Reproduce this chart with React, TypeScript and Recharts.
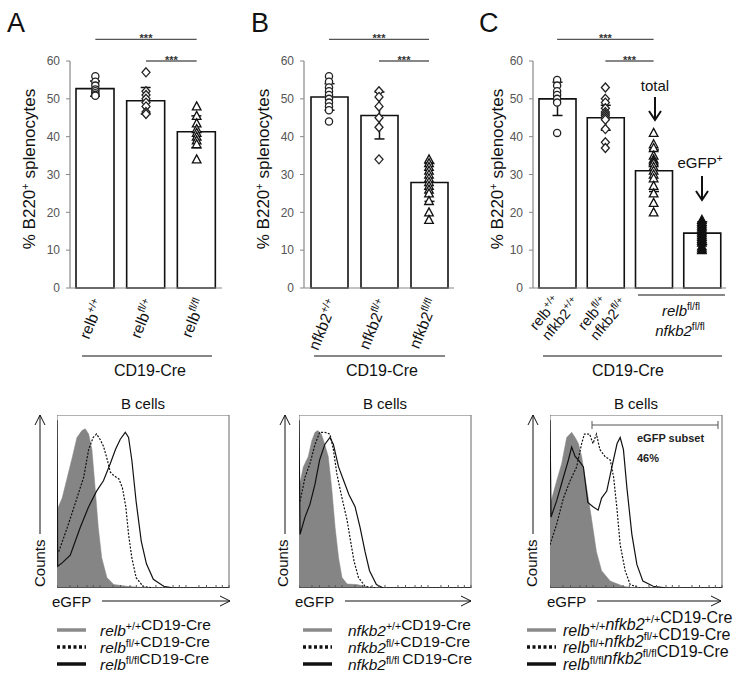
import React from "react";
import {
  Area,
  Bar,
  ComposedChart,
  ErrorBar,
  Line,
  ReferenceArea,
  ReferenceLine,
  Scatter,
  XAxis,
  YAxis,
} from "recharts";

const FONT = 'Arial, "Liberation Sans", Helvetica, sans-serif';
const AXIS = "#888";

// ---- top bar charts: category keys are "gene|genotype[|gene|genotype]"
const catsA = ["relb|+/+", "relb|fl/+", "relb|fl/fl"];
const meansA = [52.7, 49.5, 41.3];
const errsA = [2.0, 3.5, 4.2];
const ptsA = [
  [56, 54.5, 53.5, 52.5, 52, 51.5, 51, 50.8],
  [57, 52, 51, 50, 49, 48, 46.5, 46],
  [48, 45.5, 43.5, 42, 41, 40, 39, 38, 34],
];

const catsB = ["nfkb2|+/+", "nfkb2|fl/+", "nfkb2|fl/fl"];
const meansB = [50.5, 45.6, 27.9];
const errsB = [3.5, 6.2, 5.0];
const ptsB = [
  [56, 54.5, 53, 52, 51, 50, 49, 48, 47, 44],
  [52, 50.5, 48, 45, 42.5, 34],
  [34, 33, 32, 31, 30, 29, 28, 27, 26, 25, 23, 20, 18],
];

const catsC = ["relb|+/+|nfkb2|+/+", "relb|fl/+|nfkb2|fl/+", "dko-total", "dko-egfp"];
const meansC = [50, 45, 31, 14.5];
const errsC = [4.4, 3.3, 5.5, 3.0];
const ptsC = [
  [55, 53.5, 52, 51, 50, 49, 41],
  [53, 50, 49, 47.5, 46.5, 46, 45.5, 45, 44.5, 42, 38.5, 37],
  [41, 38, 37, 35, 34, 33.5, 33, 32, 31, 30, 29, 27, 25, 22.5, 20],
  [18, 17.5, 17, 16.5, 16, 15.5, 15, 14.5, 14, 13.5, 13, 12.5, 12, 11, 10.5, 10],
];

const yTicks = [0, 10, 20, 30, 40, 50, 60];
const sigLong = 65.7;
const sigShort = 60;

// ---- histograms (x: channel 0-100 across the plot, y: % of max)
const grayA = [
  { x: 0, y: 45 }, { x: 3, y: 52 }, { x: 6, y: 64 }, { x: 9, y: 76 }, { x: 11.6, y: 87 },
  { x: 14.5, y: 91 }, { x: 16.4, y: 92 }, { x: 18.4, y: 89 }, { x: 20.3, y: 80 }, { x: 22, y: 60 },
  { x: 24, y: 35 }, { x: 26, y: 17.5 }, { x: 29, y: 6 }, { x: 33, y: 2 }, { x: 40.6, y: 1 },
  { x: 48, y: 0.4 }, { x: 55, y: 0 }, { x: 100, y: 0 },
];
const dotA = [
  { x: 1, y: 21 }, { x: 6, y: 35 }, { x: 11.6, y: 52 }, { x: 15.5, y: 64 }, { x: 18.4, y: 80 },
  { x: 21, y: 87 }, { x: 23, y: 89 }, { x: 25, y: 86 }, { x: 27, y: 82 }, { x: 29, y: 75 },
  { x: 31, y: 67 }, { x: 33, y: 65 }, { x: 36, y: 63 }, { x: 38, y: 58 }, { x: 40, y: 47 },
  { x: 41.6, y: 31 }, { x: 43.5, y: 17.5 }, { x: 46, y: 6 }, { x: 50, y: 1 }, { x: 56, y: 0 },
  { x: 100, y: 0 },
];
const solidA = [
  { x: 0, y: 97 }, { x: 0.4, y: 12.6 }, { x: 3, y: 14.5 }, { x: 7.7, y: 19 }, { x: 13.5, y: 35 },
  { x: 18.4, y: 47 }, { x: 23, y: 56 }, { x: 27, y: 62 }, { x: 31, y: 72 }, { x: 34, y: 80 },
  { x: 36.8, y: 86 }, { x: 39.7, y: 90 }, { x: 41.6, y: 87 }, { x: 43.5, y: 74 }, { x: 46, y: 50 },
  { x: 49, y: 27 }, { x: 52, y: 14 }, { x: 56, y: 5 }, { x: 62, y: 1 }, { x: 68, y: 0 }, { x: 100, y: 0 },
];

const grayB = [
  { x: 0, y: 58 }, { x: 2.5, y: 70 }, { x: 5.4, y: 76 }, { x: 7.4, y: 85 }, { x: 9.3, y: 90 },
  { x: 11, y: 91 }, { x: 13, y: 89 }, { x: 15, y: 83 }, { x: 17, y: 76 }, { x: 19, y: 58 },
  { x: 21, y: 35 }, { x: 23, y: 17.5 }, { x: 25, y: 6 }, { x: 28, y: 2.3 }, { x: 33.6, y: 2 },
  { x: 38.4, y: 1 }, { x: 41, y: 0 }, { x: 100, y: 0 },
];
const dotB = [
  { x: 0.6, y: 50 }, { x: 3.5, y: 64 }, { x: 6.4, y: 72 }, { x: 9.3, y: 83 }, { x: 12, y: 90 },
  { x: 15, y: 90 }, { x: 18, y: 89 }, { x: 20, y: 80 }, { x: 22, y: 66 }, { x: 25, y: 52 },
  { x: 28, y: 39 }, { x: 30, y: 27 }, { x: 32, y: 15.5 }, { x: 34.6, y: 6 }, { x: 38.4, y: 1 },
  { x: 45, y: 0 }, { x: 100, y: 0 },
];
const solidB = [
  { x: 0, y: 97 }, { x: 0.6, y: 31 }, { x: 3.5, y: 41 }, { x: 6.4, y: 48.5 }, { x: 9.3, y: 60 },
  { x: 12, y: 74 }, { x: 15, y: 83 }, { x: 18, y: 87 }, { x: 20, y: 83 }, { x: 23, y: 70 },
  { x: 26, y: 62 }, { x: 29, y: 54 }, { x: 32.6, y: 47 }, { x: 35.5, y: 35 }, { x: 38.4, y: 21 },
  { x: 41, y: 10 }, { x: 45, y: 2 }, { x: 49, y: 0 }, { x: 100, y: 0 },
];

const grayC = [
  { x: 0, y: 48 }, { x: 3.9, y: 62 }, { x: 6.8, y: 72 }, { x: 9.7, y: 87 }, { x: 12.6, y: 90 },
  { x: 14.6, y: 87 }, { x: 16.5, y: 83.5 }, { x: 18.4, y: 76 }, { x: 21, y: 60 }, { x: 24, y: 41 },
  { x: 27, y: 21 }, { x: 30, y: 10 }, { x: 35, y: 4 }, { x: 42.7, y: 1 }, { x: 48.5, y: 0 },
  { x: 100, y: 0 },
];
const dotC = [
  { x: 0, y: 25 }, { x: 3.9, y: 37 }, { x: 7.8, y: 52 }, { x: 11.7, y: 62 }, { x: 15.5, y: 70 },
  { x: 18.4, y: 83.5 }, { x: 20, y: 89 }, { x: 23, y: 89 }, { x: 25, y: 83.5 }, { x: 27, y: 89 },
  { x: 29, y: 80 }, { x: 32, y: 76 }, { x: 35, y: 74 }, { x: 37, y: 64 }, { x: 39, y: 45 },
  { x: 40.8, y: 25 }, { x: 43.7, y: 10 }, { x: 46.6, y: 2 }, { x: 52, y: 0 }, { x: 100, y: 0 },
];
const solidC = [
  { x: 0, y: 97 }, { x: 0.6, y: 41 }, { x: 3.9, y: 50.5 }, { x: 7.8, y: 64 }, { x: 10.7, y: 74 },
  { x: 12.6, y: 81.5 }, { x: 14.6, y: 76 }, { x: 16.5, y: 74 }, { x: 19.4, y: 70 }, { x: 22, y: 49.5 },
  { x: 25, y: 47 }, { x: 28, y: 45 }, { x: 30, y: 52 }, { x: 33, y: 56 }, { x: 36, y: 70 },
  { x: 39, y: 83.5 }, { x: 40.8, y: 87 }, { x: 42.7, y: 80 }, { x: 44.7, y: 58 }, { x: 47.6, y: 31 },
  { x: 50.5, y: 13.6 }, { x: 54, y: 4 }, { x: 60, y: 1 }, { x: 68, y: 0 }, { x: 100, y: 0 },
];

// log-decade ticks along the eGFP axis (4 decades)
const logTicks: number[] = [];
for (let d = 0; d < 4; d++) {
  for (let k = 1; k < 10; k++) logTicks.push(d * 25 + Math.log10(k) * 25);
}
logTicks.push(100);

const legendA = [
  [["relb", "+/+"]],
  [["relb", "fl/+"]],
  [["relb", "fl/fl"]],
];
const legendB = [
  [["nfkb2", "+/+"]],
  [["nfkb2", "fl/+"]],
  [["nfkb2", "fl/fl "]],
];
const legendC = [
  [["relb", "+/+"], ["nfkb2", "+/+"]],
  [["relb", "fl/+"], ["nfkb2", "fl/+"]],
  [["relb", "fl/fl"], ["nfkb2", "fl/fl"]],
];

// ---- markers
type Kind = "circle" | "diamond" | "tri" | "triFill";
const marker = (kind: Kind) => (p: any) => {
  const { cx, cy } = p;
  if (cx == null || cy == null) return <g />;
  if (kind === "circle")
    return <circle cx={cx} cy={cy} r={3.6} fill="#fff" stroke="#222" strokeWidth={1.3} />;
  if (kind === "diamond")
    return (
      <polygon
        points={`${cx},${cy - 4.5} ${cx + 4},${cy} ${cx},${cy + 4.5} ${cx - 4},${cy}`}
        fill="#fff"
        stroke="#222"
        strokeWidth={1.3}
      />
    );
  return (
    <polygon
      points={`${cx},${cy - 4.5} ${cx + 4.3},${cy + 3.5} ${cx - 4.3},${cy + 3.5}`}
      fill={kind === "triFill" ? "#111" : "#fff"}
      stroke="#111"
      strokeWidth={1.3}
    />
  );
};

function GeneText({
  gene,
  sup,
  size,
  italic = true,
}: {
  gene: string;
  sup: string;
  size: number;
  italic?: boolean;
}) {
  return (
    <>
      <tspan fontStyle={italic ? "italic" : "normal"}>{gene}</tspan>
      <tspan dy={-size * 0.4} fontSize={size * 0.68}>
        {sup}
      </tspan>
      <tspan dy={size * 0.4}>{""}</tspan>
    </>
  );
}

const RotTick = (props: any) => {
  const { x, y, payload } = props;
  const parts = String(payload.value).split("|");
  if (parts.length < 2) return <g />;
  if (parts.length === 2) {
    return (
      <g transform={`translate(${x + 9},${y + 14}) rotate(-68)`}>
        <text textAnchor="end" fontFamily={FONT} fontSize={15.5} fill="#111">
          <GeneText gene={parts[0]} sup={parts[1]} size={15.5} italic={false} />
        </text>
      </g>
    );
  }
  return (
    <g transform={`translate(${x - 21},${y + 43}) rotate(-50)`}>
      <text textAnchor="start" fontFamily={FONT} fontSize={14.5} fill="#111">
        <GeneText gene={parts[0]} sup={parts[1]} size={14.5} italic={false} />
      </text>
      <text y={16} textAnchor="start" fontFamily={FONT} fontSize={14.5} fill="#111">
        <GeneText gene={parts[2]} sup={parts[3]} size={14.5} italic={false} />
      </text>
    </g>
  );
};

const Stars = (props: any) => {
  const vb = props.viewBox || {};
  return (
    <text
      x={vb.x + (vb.width || 0) / 2}
      y={vb.y + 3}
      textAnchor="middle"
      fontFamily={FONT}
      fontSize={11}
      fontWeight="bold"
      fill="#333"
    >
      ***
    </text>
  );
};

function BarPanel({
  left,
  width,
  cats,
  means,
  errs,
  pts,
  kinds,
  barSize,
}: {
  left: number;
  width: number;
  cats: string[];
  means: number[];
  errs: number[];
  pts: number[][];
  kinds: Kind[];
  barSize: number;
}) {
  const rows = cats.map((c, i) => ({ name: c, mean: means[i], err: errs[i] }));
  return (
    <div style={{ position: "absolute", left, top: 0 }}>
      <ComposedChart
        width={width}
        height={368}
        data={rows}
        margin={{ top: 61, right: 5, bottom: 0, left: 0 }}
      >
        <XAxis
          dataKey="name"
          allowDuplicatedCategory={false}
          interval={0}
          tickLine={false}
          tickSize={0}
          tickMargin={0}
          axisLine={{ stroke: AXIS, strokeWidth: 1.2 }}
          tick={<RotTick />}
          height={80}
        />
        <YAxis
          domain={[0, 60]}
          ticks={yTicks}
          width={70}
          tickSize={4}
          tickMargin={6}
          axisLine={{ stroke: AXIS, strokeWidth: 1.2 }}
          tickLine={{ stroke: AXIS }}
          tick={{ fontSize: 12, fill: "#555", fontFamily: FONT }}
        />
        <Bar
          dataKey="mean"
          fill="#fff"
          stroke="#111"
          strokeWidth={1.6}
          barSize={barSize}
          isAnimationActive={false}
        >
          <ErrorBar dataKey="err" width={5} stroke="#111" strokeWidth={1.5} />
        </Bar>
        {pts.map((arr, i) => (
          <Scatter
            key={i}
            data={arr.map((v) => ({ name: cats[i], v }))}
            dataKey="v"
            shape={marker(kinds[i])}
            isAnimationActive={false}
          />
        ))}
        <ReferenceLine
          segment={[
            { x: cats[0], y: sigLong },
            { x: cats[2], y: sigLong },
          ]}
          stroke="#555"
          strokeWidth={1.2}
          ifOverflow="visible"
          label={<Stars />}
        />
        <ReferenceLine
          segment={[
            { x: cats[1], y: sigShort },
            { x: cats[2], y: sigShort },
          ]}
          stroke="#111"
          strokeWidth={1.2}
          ifOverflow="visible"
          label={<Stars />}
        />
      </ComposedChart>
    </div>
  );
}

function Hist({
  left,
  gray,
  dotted,
  solid,
}: {
  left: number;
  gray: { x: number; y: number }[];
  dotted: { x: number; y: number }[];
  solid: { x: number; y: number }[];
}) {
  return (
    <div style={{ position: "absolute", left, top: 415 }}>
      <ComposedChart width={173} height={173} margin={{ top: 0, right: 1, bottom: 0, left: 0 }}>
        <XAxis
          type="number"
          dataKey="x"
          domain={[0, 100]}
          ticks={logTicks}
          tickFormatter={() => ""}
          mirror
          tickSize={3}
          height={1}
          axisLine={{ stroke: "#222", strokeWidth: 1.2 }}
          tickLine={{ stroke: "#555" }}
          allowDataOverflow
        />
        <YAxis type="number" domain={[0, 100]} hide />
        <ReferenceArea x1={0} x2={100} y1={0} y2={100} fill="none" stroke="#666" strokeWidth={1} />
        <Area
          data={gray}
          dataKey="y"
          type="linear"
          fill="#858585"
          fillOpacity={1}
          stroke="#858585"
          strokeWidth={0.5}
          isAnimationActive={false}
        />
        <Line
          data={dotted}
          dataKey="y"
          type="linear"
          stroke="#111"
          strokeWidth={1.2}
          strokeDasharray="2 1.5"
          dot={false}
          isAnimationActive={false}
        />
        <Line
          data={solid}
          dataKey="y"
          type="linear"
          stroke="#111"
          strokeWidth={1.2}
          dot={false}
          isAnimationActive={false}
        />
      </ComposedChart>
    </div>
  );
}

function Legend({ x0, xt, rows, size }: { x0: number; xt: number; rows: string[][][]; size: number }) {
  const styles = [
    { stroke: "#8a8a8a", dash: undefined },
    { stroke: "#111", dash: "3 2.5" },
    { stroke: "#111", dash: undefined },
  ];
  return (
    <>
      {rows.map((r, i) => {
        const y = 630 + i * 17;
        return (
          <g key={i}>
            <line
              x1={x0}
              x2={x0 + 29}
              y1={y}
              y2={y}
              stroke={styles[i].stroke}
              strokeWidth={3.5}
              strokeDasharray={styles[i].dash}
            />
            <text x={xt} y={y + 6} fontFamily={FONT} fontSize={size} fill="#111">
              {r.map((g, j) => (
                <GeneText key={j} gene={g[0]} sup={g[1]} size={size} />
              ))}
              <tspan>CD19-Cre</tspan>
            </text>
          </g>
        );
      })}
    </>
  );
}

function AxisArrows({ cx, ex0, ex1, tx }: { cx: number; ex0: number; ex1: number; tx: number }) {
  return (
    <>
      <line x1={cx} x2={cx} y1={415} y2={534} stroke="#111" strokeWidth={1} />
      <polyline points={`${cx - 5},${425} ${cx},${415} ${cx + 5},${425}`} fill="none" stroke="#111" strokeWidth={1} />
      <text
        transform={`translate(${tx},587) rotate(-90)`}
        fontFamily={FONT}
        fontSize={15}
        fill="#111"
      >
        Counts
      </text>
      <text x={ex0} y={607} fontFamily={FONT} fontSize={15} fill="#111">
        eGFP
      </text>
      <line x1={ex0 + 50} x2={ex1} y1={601} y2={601} stroke="#111" strokeWidth={1} />
      <polyline points={`${ex1 - 10},${596} ${ex1},${601} ${ex1 - 10},${606}`} fill="none" stroke="#111" strokeWidth={1} />
    </>
  );
}

const YLabel = ({ x }: { x: number }) => (
  <text
    transform={`translate(${x},169) rotate(-90)`}
    textAnchor="middle"
    fontFamily={FONT}
    fontSize={17}
    fill="#111"
  >
    % B220<tspan dy={-6} fontSize={11}>+</tspan>
    <tspan dy={6}> splenocytes</tspan>
  </text>
);

export default function App() {
  return (
    <div
      style={{
        position: "absolute",
        left: 0,
        top: 0,
        width: 749,
        height: 679,
        background: "#fff",
        fontFamily: FONT,
      }}
    >
      <BarPanel left={0} width={227} cats={catsA} means={meansA} errs={errsA} pts={ptsA} kinds={["circle", "diamond", "tri"]} barSize={38} />
      <BarPanel left={234} width={225} cats={catsB} means={meansB} errs={errsB} pts={ptsB} kinds={["circle", "diamond", "tri"]} barSize={37} />
      <BarPanel left={463} width={268} cats={catsC} means={meansC} errs={errsC} pts={ptsC} kinds={["circle", "diamond", "tri", "triFill"]} barSize={37} />

      <Hist left={57} gray={grayA} dotted={dotA} solid={solidA} />
      <Hist left={299} gray={grayB} dotted={dotB} solid={solidB} />
      <Hist left={550} gray={grayC} dotted={dotC} solid={solidC} />

      <svg
        width={749}
        height={679}
        style={{ position: "absolute", left: 0, top: 0, pointerEvents: "none" }}
      >
        <g fontFamily={FONT} fill="#111">
          <text x={7} y={32} fontSize={27}>A</text>
          <text x={251} y={32} fontSize={27}>B</text>
          <text x={479} y={32} fontSize={27}>C</text>
        </g>
        <YLabel x={35} />
        <YLabel x={269} />
        <YLabel x={503} />

        {/* group lines under the bar charts */}
        <line x1={82} x2={212} y1={356} y2={356} stroke="#111" strokeWidth={1.2} />
        <line x1={314} x2={445} y1={356} y2={356} stroke="#111" strokeWidth={1.2} />
        <line x1={543} x2={722} y1={356} y2={356} stroke="#111" strokeWidth={1.2} />
        <g fontFamily={FONT} fontSize={16} fill="#111" textAnchor="middle">
          <text x={150} y={376}>CD19-Cre</text>
          <text x={382} y={376}>CD19-Cre</text>
          <text x={628} y={376}>CD19-Cre</text>
        </g>
        <line x1={638} x2={725} y1={295} y2={295} stroke="#111" strokeWidth={1.2} />
        <g fontFamily={FONT} fontSize={15} fill="#111" textAnchor="middle">
          <text x={681} y={316}>
            <GeneText gene="relb" sup="fl/fl" size={15} />
          </text>
          <text x={680} y={336}>
            <GeneText gene="nfkb2" sup="fl/fl" size={15} />
          </text>
        </g>

        {/* annotations in C */}
        <text x={655} y={91} textAnchor="middle" fontFamily={FONT} fontSize={15} fill="#111">total</text>
        <line x1={655} x2={655} y1={97} y2={119} stroke="#111" strokeWidth={2} />
        <polyline points="649,111 655,120 661,111" fill="none" stroke="#111" strokeWidth={2} />
        <text x={700} y={168} textAnchor="middle" fontFamily={FONT} fontSize={15} fill="#111">
          eGFP<tspan dy={-6} fontSize={10}>+</tspan>
        </text>
        <line x1={702} x2={702} y1={176} y2={199} stroke="#111" strokeWidth={2} />
        <polyline points="696,191 702,200 708,191" fill="none" stroke="#111" strokeWidth={2} />

        {/* histogram titles and axes */}
        <g fontFamily={FONT} fontSize={15} fill="#111" textAnchor="middle">
          <text x={143} y={409}>B cells</text>
          <text x={385} y={409}>B cells</text>
          <text x={636} y={409}>B cells</text>
        </g>
        <AxisArrows cx={40} ex0={52} ex1={230} tx={45} />
        <AxisArrows cx={285} ex0={295} ex1={471} tx={288} />
        <AxisArrows cx={533} ex0={547} ex1={721} tx={537} />

        <line x1={592} x2={718} y1={425} y2={425} stroke="#555" strokeWidth={1} />
        <line x1={592} x2={592} y1={421} y2={429} stroke="#555" strokeWidth={1} />
        <line x1={718} x2={718} y1={421} y2={429} stroke="#555" strokeWidth={1} />
        <g fontFamily={FONT} fontSize={11} fontWeight="bold" fill="#222">
          <text x={637} y={442}>eGFP subset</text>
          <text x={637} y={462}>46%</text>
        </g>

        <Legend x0={57} xt={100} rows={legendA} size={15.5} />
        <Legend x0={303} xt={348} rows={legendB} size={15.5} />
        <Legend x0={527} xt={563} rows={legendC} size={16} />
      </svg>
    </div>
  );
}
